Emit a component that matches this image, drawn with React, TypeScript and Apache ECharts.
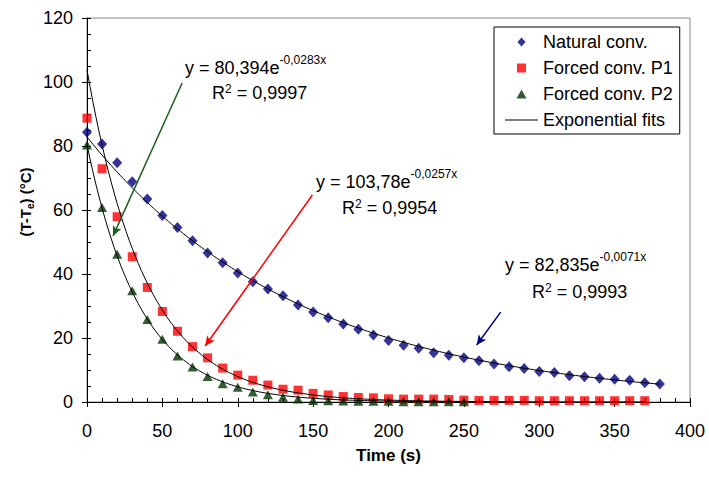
import React, { useEffect, useRef } from "react";
import * as echarts from "echarts";

// Sampling interval of the measurements (s)
const timeStep = 10;

// Measured temperature differences (°C), one value every 10 s from t = 0
const naturalConv = [84.3, 80.6, 74.8, 68.8, 63.4, 58.3, 54.5, 50.4, 46.6, 43.5, 40.3, 37.6, 35.3, 33.2, 30.3, 28.1, 26.3, 24.4, 22.7, 20.9, 19.2, 17.7, 16.8, 15.4, 14.6, 13.8, 12.9, 11.9, 11.0, 10.5, 9.5, 9.2, 8.2, 7.9, 7.4, 7.1, 6.8, 6.0, 5.6];
const forcedP1 = [88.7, 72.9, 57.9, 45.4, 35.8, 28.3, 22.1, 17.3, 13.8, 10.6, 8.4, 6.8, 5.3, 4.0, 3.7, 2.7, 2.2, 1.7, 1.4, 1.3, 1.0, 0.9, 0.9, 0.9, 0.8, 0.6, 0.5, 0.5, 0.5, 0.5, 0.4, 0.4, 0.4, 0.4, 0.4, 0.4, 0.4, 0.4];
const forcedP2 = [80.3, 60.8, 46.2, 34.8, 25.8, 19.6, 14.4, 10.9, 8.0, 5.7, 4.6, 3.1, 2.3, 1.5, 0.9, 0.5, 0.4, 0.3, 0.2, 0.2, 0.2, 0.1, 0.1, 0.1, 0.1, 0.1];

// Exponential fit coefficients shown on the chart: y = A * exp(B * x)
const fitA = [82.835, 103.78, 80.394];
const fitB = [-0.0071, -0.0257, -0.0283];
const fitEnd = [380, 370, 250];

// Axis ticks
const xTicks = { min: 0, max: 400, interval: 50 };
const yTicks = { min: 0, max: 120, interval: 20 };

// Annotation arrows (data coordinates): [startX, startY, endX, endY]
const arrowNatural = [274.4, 28.1, 258.5, 17.8];
const arrowP1 = [149.5, 64.7, 78.4, 17.5];
const arrowP2 = [63.1, 99.7, 17.3, 51.9];

const FONT = "'Liberation Sans', Arial, Helvetica, sans-serif";

const toPoints = (vals: number[]) => vals.map((v, i) => [i * timeStep, v]);
const fitCurve = (k: number) => {
  const pts: number[][] = [];
  for (let x = 0; x <= fitEnd[k]; x += 2) pts.push([x, fitA[k] * Math.exp(fitB[k] * x)]);
  return pts;
};

const arrowLine = (a: number[], color: string) => [
  { coord: [a[0], a[1]], symbol: "none", lineStyle: { color, width: 1.5, type: "solid" } },
  { coord: [a[2], a[3]], symbol: "arrow", symbolSize: [7, 10], lineStyle: { color, width: 1.5, type: "solid" } },
];

const eqText = (x: number, y: number, main: string, sup: string) => ({
  type: "text",
  x,
  y,
  z: 100,
  style: {
    text: `{m|${main}}{s|${sup}}`,
    align: "left",
    verticalAlign: "middle",
    rich: {
      m: { fontSize: 18, lineHeight: 28, fontFamily: FONT, fill: "#000" },
      s: { fontSize: 12, lineHeight: 12, fontFamily: FONT, fill: "#000", verticalAlign: "top" },
    },
  },
});

const r2Text = (x: number, y: number, val: string) => ({
  type: "text",
  x,
  y,
  z: 100,
  style: {
    text: `{m|R}{s|2}{m| = ${val}}`,
    align: "left",
    verticalAlign: "middle",
    rich: {
      m: { fontSize: 18, lineHeight: 20, fontFamily: FONT, fill: "#000" },
      s: { fontSize: 12, lineHeight: 12, fontFamily: FONT, fill: "#000", verticalAlign: "top" },
    },
  },
});

export default function App() {
  const ref = useRef<HTMLDivElement>(null);

  useEffect(() => {
    if (!ref.current) return;
    const chart = echarts.init(ref.current, undefined, { renderer: "svg" });

    const axisCommon = {
      type: "value" as const,
      splitLine: { show: false },
    };

    const option: any = {
      animation: false,
      backgroundColor: "#fff",
      textStyle: { fontFamily: FONT },
      grid: {
        left: 87,
        right: 19,
        top: 18,
        bottom: 75,
        show: true,
        borderColor: "#888",
        borderWidth: 1,
        backgroundColor: "transparent",
      },
      xAxis: [
        {
          ...axisCommon,
          ...xTicks,
          position: "bottom",
          name: "Time (s)",
          nameLocation: "middle",
          nameGap: 45,
          nameTextStyle: { fontSize: 17, fontWeight: "bold", color: "#000", fontFamily: FONT },
          axisLine: { show: true, onZero: false, lineStyle: { color: "#000", width: 1 } },
          axisTick: { show: true, inside: true, length: 4, lineStyle: { color: "#000" } },
          minorTick: { show: true, splitNumber: 5, length: 4, lineStyle: { color: "#000" } },
          axisLabel: { fontSize: 18, color: "#000", margin: 20, fontFamily: FONT },
        },
        {
          ...axisCommon,
          ...xTicks,
          position: "bottom",
          axisLine: { show: false, onZero: false },
          axisTick: { show: true, inside: false, length: 5, lineStyle: { color: "#000" } },
          axisLabel: { show: false },
        },
      ],
      yAxis: [
        {
          ...axisCommon,
          ...yTicks,
          position: "left",
          axisLine: { show: true, onZero: false, lineStyle: { color: "#000", width: 1 } },
          axisTick: { show: true, inside: true, length: 4, lineStyle: { color: "#000" } },
          minorTick: { show: true, splitNumber: 4, length: 4, lineStyle: { color: "#000" } },
          axisLabel: { fontSize: 18, color: "#000", margin: 14, fontFamily: FONT },
        },
        {
          ...axisCommon,
          ...yTicks,
          position: "left",
          axisLine: { show: false, onZero: false },
          axisTick: { show: true, inside: false, length: 5, lineStyle: { color: "#000" } },
          axisLabel: { show: false },
        },
      ],
      legend: {
        orient: "vertical",
        left: 494,
        top: 27,
        padding: [6, 7, 5, 11],
        itemGap: 8,
        itemWidth: 33,
        itemHeight: 9,
        symbolKeepAspect: true,
        backgroundColor: "#fff",
        borderColor: "#000",
        borderWidth: 1,
        borderRadius: 0,
        textStyle: { fontSize: 18, color: "#000", fontFamily: FONT },
        data: [
          { name: "Natural conv.", icon: "path://M5,0L10,5.5L5,11L0,5.5Z", itemStyle: { color: "#000080" } },
          { name: "Forced conv. P1", icon: "path://M0,0H9V9H0Z", itemStyle: { color: "#ff0000" } },
          { name: "Forced conv. P2", icon: "path://M5,0L10,9L0,9Z", itemStyle: { color: "#003300" } },
          { name: "Exponential fits", icon: "path://M0,0H33V1H0Z", itemStyle: { color: "#000" } },
        ],
      },
      series: [
        {
          name: "Natural conv.",
          type: "scatter",
          symbol: "diamond",
          symbolSize: [10, 11],
          itemStyle: { color: "#000080" },
          data: toPoints(naturalConv),
          z: 3,
        },
        {
          name: "Forced conv. P1",
          type: "scatter",
          symbol: "rect",
          symbolSize: 9,
          itemStyle: { color: "#ff0000" },
          data: toPoints(forcedP1),
          z: 3,
        },
        {
          name: "Forced conv. P2",
          type: "scatter",
          symbol: "triangle",
          symbolSize: [10, 9],
          itemStyle: { color: "#003300" },
          data: toPoints(forcedP2),
          z: 3,
        },
        ...[0, 1, 2].map((k) => ({
          name: "Exponential fits",
          type: "line",
          symbol: "none",
          showSymbol: false,
          lineStyle: { color: "#000", width: 1 },
          itemStyle: { color: "#000" },
          data: fitCurve(k),
          z: 4,
          markLine:
            k === 0
              ? {
                  silent: true,
                  animation: false,
                  label: { show: false },
                  data: [arrowLine(arrowNatural, "#000080"), arrowLine(arrowP1, "#ff0000"), arrowLine(arrowP2, "#1e5e1e")],
                }
              : undefined,
        })),
      ],
      graphic: [
        eqText(185, 68, "y = 80,394e", "-0,0283x"),
        r2Text(212, 93, "0,9997"),
        eqText(316, 182, "y = 103,78e", "-0,0257x"),
        r2Text(342, 208, "0,9954"),
        eqText(505, 265, "y = 82,835e", "-0,0071x"),
        r2Text(532, 292, "0,9993"),
        {
          type: "text",
          x: 25,
          y: 202,
          rotation: Math.PI / 2,
          z: 100,
          style: {
            text: "{a|(T-T}{b|e}{a|) (°C)}",
            align: "center",
            verticalAlign: "middle",
            rich: {
              a: { fontSize: 15, fontWeight: "bold", lineHeight: 20, fontFamily: FONT, fill: "#000" },
              b: { fontSize: 10, fontWeight: "bold", lineHeight: 10, fontFamily: FONT, fill: "#000", verticalAlign: "bottom" },
            },
          },
        },
      ],
    };

    chart.setOption(option);
    return () => chart.dispose();
  }, []);

  return (
    <div
      ref={ref}
      style={{ position: "absolute", left: 0, top: 0, width: 709, height: 477, background: "#fff" }}
    />
  );
}
